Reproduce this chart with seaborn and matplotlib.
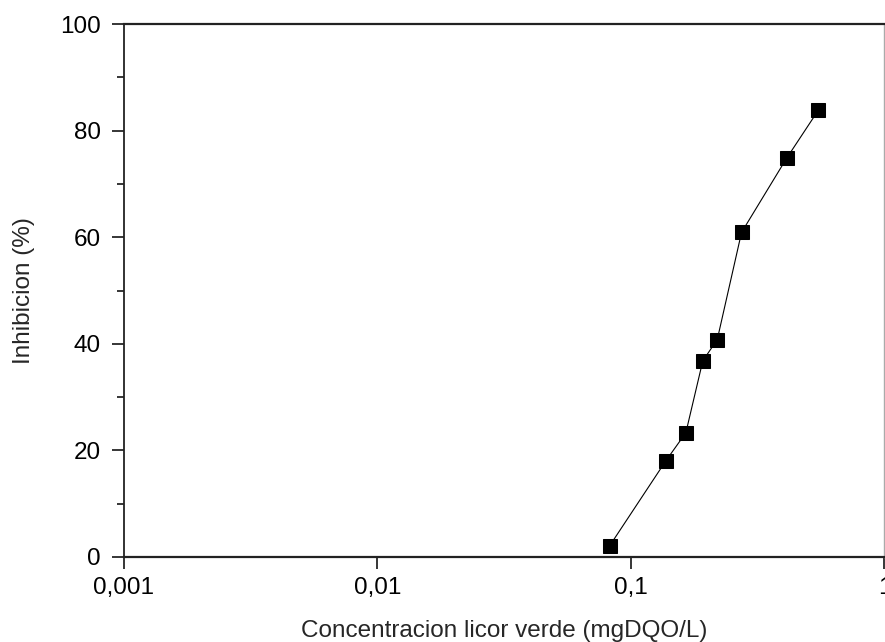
import numpy as np
import pandas as pd
import seaborn as sns
import matplotlib
matplotlib.use("Agg")
import matplotlib.pyplot as plt
from matplotlib.ticker import FixedLocator, NullLocator

# data
conc = [0.0824, 0.1375, 0.1646, 0.192, 0.219, 0.273, 0.411, 0.548]
inhib = [2.1, 18.1, 23.3, 36.8, 40.8, 60.9, 74.8, 83.8]

x_ticks = [0.001, 0.01, 0.1, 1]
x_tick_labels = ["0,001", "0,01", "0,1", "1"]
y_ticks = [0, 20, 40, 60, 80, 100]
y_minor = [10, 30, 50, 70, 90]

sns.set_style("ticks")
plt.rcParams['font.family'] = ['Liberation Sans', 'DejaVu Sans']

df = pd.DataFrame({"conc": conc, "inhib": inhib})

fig = plt.figure(figsize=(8.85, 6.42), dpi=100)
ax = fig.add_axes([0.1401, 0.1324, 0.8593, 0.8302])

sns.lineplot(data=df, x="conc", y="inhib", ax=ax, color="black", linewidth=0.8,
             marker="s", markersize=9.4, markeredgecolor="black", markerfacecolor="black",
             sort=False)

ax.set_xscale("log")
ax.set_xlim(0.001, 1)
ax.set_ylim(0, 100)
ax.xaxis.set_major_locator(FixedLocator(x_ticks))
ax.set_xticklabels(x_tick_labels)
ax.xaxis.set_minor_locator(NullLocator())
ax.yaxis.set_major_locator(FixedLocator(y_ticks))
ax.yaxis.set_minor_locator(FixedLocator(y_minor))

ax.tick_params(axis="both", which="major", direction="out", length=8.6, width=1.1,
               labelsize=17.5, color="black", labelcolor="black")
ax.tick_params(axis="x", which="major", pad=6)
ax.tick_params(axis="y", which="major", pad=8)
ax.tick_params(axis="y", which="minor", direction="out", length=5, width=1.1, color="black")

for side in ["left", "bottom", "top"]:
    ax.spines[side].set_visible(True)
    ax.spines[side].set_color("#222222")
ax.spines["left"].set_linewidth(1.3)
ax.spines["bottom"].set_linewidth(1.6)
ax.spines["top"].set_linewidth(1.6)
ax.spines["right"].set_visible(True)
ax.spines["right"].set_color("#aaaaaa")
ax.spines["right"].set_linewidth(1.0)

ax.set_xlabel("Concentracion licor verde (mgDQO/L)", fontsize=17.5, labelpad=15)
ax.set_ylabel("Inhibicion (%)", fontsize=17.5, labelpad=18)
ax.grid(False)

fig.savefig("out.png", dpi=100)
